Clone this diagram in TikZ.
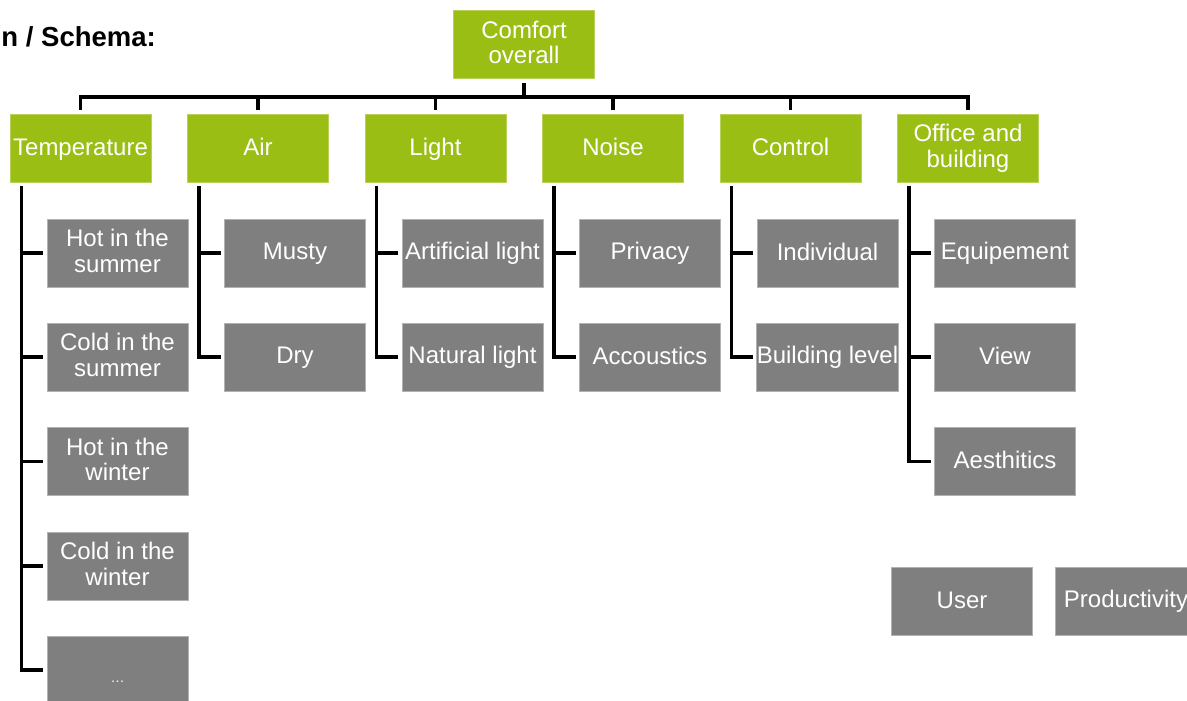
\documentclass[tikz,border=0pt]{standalone}
\usepackage{fontspec}
\setmainfont{Liberation Sans}
\definecolor{cgreen}{RGB}{155,190,20}
\definecolor{cgray}{RGB}{127,127,127}
\begin{document}
\begin{tikzpicture}[x=1pt,y=-1pt,
  box/.style={minimum width=141pt,minimum height=68pt,inner sep=0pt,align=center,
     text=white,font=\fontsize{24}{25.5}\selectfont,line width=0.8pt,
     execute at begin node={\rule{0pt}{18.5pt}},execute at end node={\rule[-4.5pt]{0pt}{4.5pt}}},
  gbox/.style={box,fill=cgreen,draw=cgreen!70!white},
  kbox/.style={box,fill=cgray,draw=cgray!60!white},
  conn/.style={line width=3.5pt,line cap=rect}]
\clip (0,0) rectangle (1187,701);
\fill[white] (0,0) rectangle (1187,701);
\node[anchor=east,font=\fontsize{27.5}{29}\selectfont\bfseries,inner sep=0pt] (title) at (156,37) {n / Schema:};
\node[gbox] (top) at (524,44.5) {Comfort\\overall};
% level 1
\node[gbox] (temp) at (80.5,148.5) {Temperature};
\node[gbox] (air) at (258,148.5) {Air};
\node[gbox] (light) at (435.5,148.5) {Light};
\node[gbox] (noise) at (613,148.5) {Noise};
\node[gbox] (ctrl) at (790.5,148.5) {Control};
\node[gbox] (office) at (968,148.5) {Office and\\building};
% children
\node[kbox] (t1) at (117.5,253) {Hot in the\\summer};
\node[kbox] (t2) at (117.5,357) {Cold in the\\summer};
\node[kbox] (t3) at (117.5,461.5) {Hot in the\\winter};
\node[kbox] (t4) at (117.5,566) {Cold in the\\winter};
\node[kbox] (t5) at (117.5,670) {\raisebox{-6pt}{\fontsize{14}{14}\selectfont\dots}};
\node[kbox] (a1) at (295,253) {Musty};
\node[kbox] (a2) at (295,357) {Dry};
\node[kbox] (l1) at (472.5,253) {Artificial light};
\node[kbox] (l2) at (472.5,357) {Natural light};
\node[kbox] (n1) at (650,253) {Privacy};
\node[kbox] (n2) at (650,357) {Accoustics};
\node[kbox] (c1) at (827.5,253) {Individual};
\node[kbox] (c2) at (827.5,357) {Building level};
\node[kbox] (o1) at (1005,253) {Equipement};
\node[kbox] (o2) at (1005,357) {View};
\node[kbox] (o3) at (1005,461.5) {Aesthitics};
\node[kbox] (user) at (962,601) {User};
\node[kbox] (prod) at (1126,601) {Productivity};
% top bar
\coordinate (bar) at (0,97);
\draw[conn] ([yshift=-6pt]top.south) -- (top.south |- bar);
\draw[conn] ([yshift=6pt]temp.north) -- (temp.north |- bar) -| ([yshift=6pt]office.north);
\foreach \n in {air,light,noise,ctrl}
  \draw[conn] ([yshift=6pt]\n.north) -- (\n.north |- bar);
% subtrees
\foreach \p/\last/\kids in {temp/t5/{t1,t2,t3,t4},air/a2/{a1},light/l2/{l1},noise/n2/{n1},ctrl/c2/{c1},office/o3/{o1,o2}}{
  \coordinate (v) at ([xshift=12pt,yshift=-5pt]\p.south west);
  \draw[conn] (v) |- ([xshift=-5pt]\last.west);
  \foreach \k in \kids
    \draw[conn] (v |- \k.west) -- ([xshift=-5pt]\k.west);
}
\end{tikzpicture}
\end{document}
